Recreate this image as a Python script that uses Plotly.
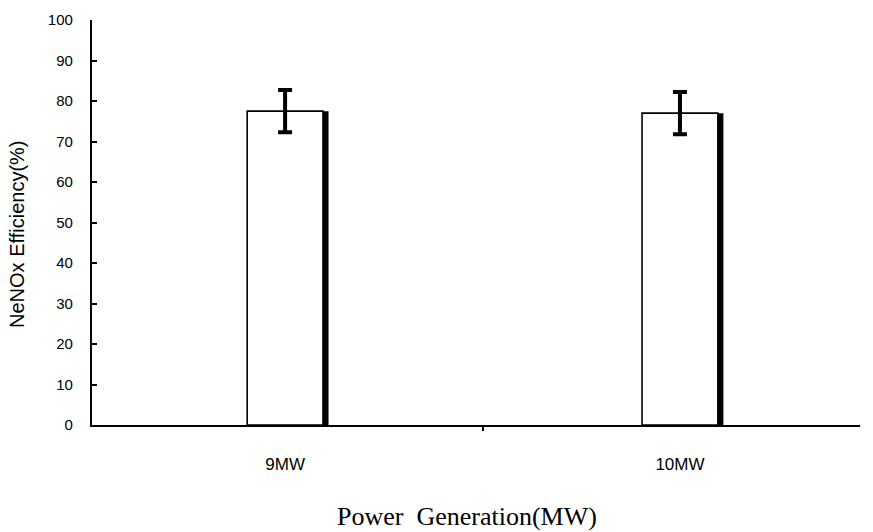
import plotly.graph_objects as go

categories = ["9MW", "10MW"]
efficiency = [77.5, 77.0]
error = [5.2, 5.2]
y_ticks = [0, 10, 20, 30, 40, 50, 60, 70, 80, 90, 100]

xpos = list(range(len(categories)))

fig = go.Figure()
# shadow bars
fig.add_trace(go.Bar(
    x=xpos, y=efficiency, width=0.016, offset=0.094,
    marker=dict(color="black", line=dict(width=0)),
    showlegend=False, hoverinfo="skip"))
# main bars
fig.add_trace(go.Bar(
    x=xpos, y=efficiency, width=0.192, offset=-0.096,
    marker=dict(color="white", line=dict(color="black", width=1.6)),
    error_y=dict(type="data", array=error, visible=True, color="black",
                 thickness=4, width=7),
    showlegend=False))

fig.update_layout(
    width=873, height=532,
    margin=dict(l=92, r=13, t=20, b=107),
    plot_bgcolor="white", paper_bgcolor="white",
    barmode="overlay",
    font=dict(family="Liberation Sans, Arial, sans-serif", color="black"),
    xaxis=dict(
        range=[-0.489, 1.456],
        tickmode="array", tickvals=xpos, ticktext=categories,
        ticks="", showgrid=False, zeroline=False,
        showline=True, linecolor="black", linewidth=1.5,
        tickfont=dict(size=17), ticklabelstandoff=23,
        minor=dict(tickmode="array", tickvals=[0.5], ticks="outside",
                   ticklen=4, tickcolor="black", tickwidth=1.5),
    ),
    yaxis=dict(
        range=[0, 100], tickmode="array", tickvals=y_ticks,
        ticks="inside", ticklen=5, tickwidth=2, tickcolor="black",
        showgrid=False, zeroline=False,
        showline=True, linecolor="black", linewidth=2.2,
        tickfont=dict(size=15), ticklabelstandoff=14,
    ),
    annotations=[
        dict(text="Power\u00a0 Generation(MW)", xref="paper", yref="paper",
             x=0.488, y=-0.225, xanchor="center", yanchor="middle", showarrow=False,
             font=dict(family="Liberation Serif, Times New Roman, serif", size=26, color="black")),
        dict(text="NeNOx Efficiency(%)", xref="paper", yref="paper", textangle=-90,
             x=-0.0977, y=0.4716, xanchor="center", yanchor="middle", showarrow=False,
             font=dict(size=20, color="black")),
    ],
)

fig.write_html("out.html")
